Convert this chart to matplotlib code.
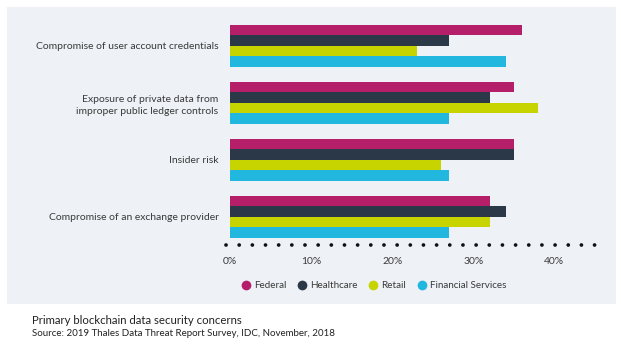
import matplotlib
matplotlib.use("Agg")
import matplotlib.pyplot as plt
import numpy as np
from matplotlib.patches import Rectangle
from matplotlib.lines import Line2D

plt.rcParams['font.family'] = ['Lato', 'DejaVu Sans']

categories = ["Compromise of user account credentials",
              "Exposure of private data from\nimproper public ledger controls",
              "Insider risk",
              "Compromise of an exchange provider"]
series_names = ["Federal", "Healthcare", "Retail", "Financial Services"]
federal = [36, 35, 35, 32]
healthcare = [27, 32, 35, 34]
retail = [23, 38, 26, 32]
financial = [34, 27, 27, 27]
tick_values = [0, 10, 20, 30, 40]
tick_labels = ["0%", "10%", "20%", "30%", "40%"]
title = "Primary blockchain data security concerns"
source = "Source: 2019 Thales Data Threat Report Survey, IDC, November, 2018"

colors = ["#b51f69", "#2a3847", "#c8d400", "#22b7de"]
text_color = "#3a3a3a"
panel_color = "#eef1f6"

W, H = 621, 350
fig = plt.figure(figsize=(W / 100, H / 100), dpi=100)
fig.patch.set_facecolor("white")

# background panel
panel = Rectangle((7 / W, 1 - 304 / H), (616 - 7) / W, (304 - 7) / H,
                  transform=fig.transFigure, facecolor=panel_color,
                  edgecolor="none", zorder=-10)
fig.add_artist(panel)

left, right = 225.5 / W, 595 / W
bottom, top = 1 - 245 / H, 1 - 17.5 / H
ax = fig.add_axes([left, bottom, right - left, top - bottom])
ax.set_facecolor("none")
ax.set_zorder(5)

xmin, xmax = -0.55, 45.0
ax.set_xlim(xmin, xmax)
ax.set_ylim(3.5, -0.5)

y = np.arange(len(categories))
bh = 0.185
data = [federal, healthcare, retail, financial]
for i, (vals, c) in enumerate(zip(data, colors)):
    ax.barh(y + (i - 1.5) * bh, vals, height=bh, color=c, edgecolor="none", zorder=2)

for s in ax.spines.values():
    s.set_visible(False)

# dotted axis line
ax.plot([xmin + 0.05, xmax], [3.5, 3.5], color="#111111", lw=2.7,
        dashes=[0.01, 3.5], dash_capstyle="round", solid_capstyle="round",
        clip_on=False, zorder=3)

ax.set_xticks(tick_values)
ax.set_xticklabels(tick_labels, fontsize=7.5, color=text_color)
ax.tick_params(axis="x", length=0, pad=9)
ax.set_yticks(y)
ax.set_yticklabels(categories, fontsize=7.5, color=text_color, linespacing=1.5)
ax.tick_params(axis="y", length=0, pad=5)

handles = [Line2D([0], [0], marker="o", linestyle="none", markersize=7,
                  markerfacecolor=c, markeredgecolor="none") for c in colors]
leg = fig.legend(handles, series_names, loc="center left",
                 bbox_to_anchor=(237 / W, 1 - 286 / H), ncol=4, frameon=False,
                 fontsize=7.1, handletextpad=0.35, columnspacing=1.05,
                 handlelength=1.0, labelcolor=text_color, borderaxespad=0)
leg.set_zorder(6)

fig.text(32 / W, 1 - 321 / H, title, fontsize=8.2, color="#222222",
         va="center", ha="left")
fig.text(32 / W, 1 - 333.5 / H, source, fontsize=7.0, color="#222222",
         va="center", ha="left")

fig.savefig("out.png", dpi=100, facecolor="white")
